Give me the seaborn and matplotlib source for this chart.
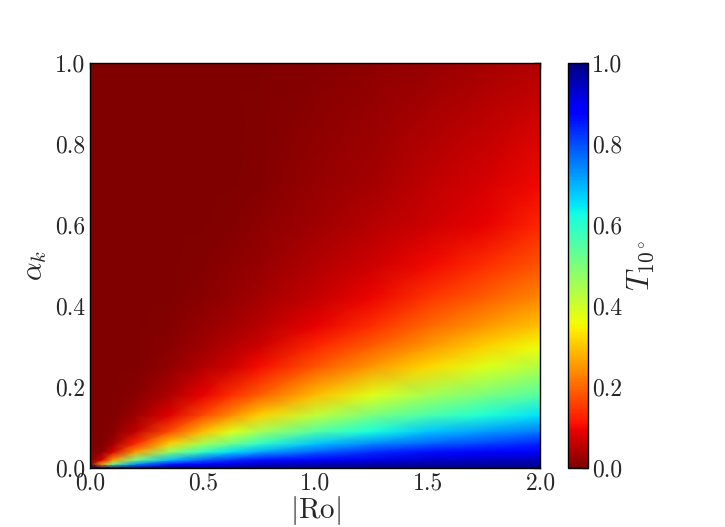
import numpy as np
import matplotlib
matplotlib.use('Agg')
import matplotlib.pyplot as plt
import seaborn as sns

# grid nodes of the map
ro = [0.0, 0.05, 0.1, 0.2, 0.35, 0.5, 0.625, 0.75, 1.0, 1.25, 1.5, 1.75, 2.0]
alpha_k = [0.0, 0.01, 0.02, 0.04, 0.06, 0.09, 0.13, 0.18, 0.25, 0.3, 0.35,
           0.42, 0.5, 0.6, 0.7, 1.0]

# T_10, one list per alpha_k row (columns follow ro)
t_a000 = [1.00, 1.00, 1.00, 1.00, 1.00, 1.00, 1.00, 1.00, 1.00, 1.00, 1.00, 1.00, 1.00]
t_a001 = [0.00, 0.25, 0.51, 0.73, 0.85, 0.89, 0.91, 0.93, 0.95, 0.96, 0.965, 0.97, 0.97]
t_a002 = [0.00, 0.075, 0.25, 0.51, 0.69, 0.78, 0.83, 0.86, 0.89, 0.91, 0.93, 0.94, 0.95]
t_a004 = [0.00, 0.012, 0.075, 0.25, 0.47, 0.59, 0.66, 0.71, 0.78, 0.83, 0.86, 0.875, 0.89]
t_a006 = [0.00, 0.002, 0.03, 0.13, 0.31, 0.45, 0.52, 0.59, 0.68, 0.74, 0.78, 0.81, 0.84]
t_a009 = [0.00, 0.00, 0.008, 0.055, 0.17, 0.29, 0.38, 0.45, 0.55, 0.62, 0.68, 0.72, 0.755]
t_a013 = [0.00, 0.00, 0.002, 0.025, 0.085, 0.17, 0.24, 0.31, 0.42, 0.50, 0.56, 0.61, 0.655]
t_a018 = [0.00, 0.00, 0.00, 0.008, 0.04, 0.09, 0.14, 0.19, 0.29, 0.38, 0.45, 0.50, 0.55]
t_a025 = [0.00, 0.00, 0.00, 0.002, 0.018, 0.045, 0.068, 0.105, 0.18, 0.25, 0.32, 0.38, 0.435]
t_a030 = [0.00, 0.00, 0.00, 0.001, 0.01, 0.03, 0.05, 0.068, 0.13, 0.19, 0.25, 0.31, 0.36]
t_a035 = [0.00, 0.00, 0.00, 0.00, 0.005, 0.02, 0.035, 0.05, 0.09, 0.14, 0.20, 0.25, 0.30]
t_a042 = [0.00, 0.00, 0.00, 0.00, 0.002, 0.01, 0.022, 0.035, 0.062, 0.095, 0.145, 0.19, 0.235]
t_a050 = [0.00, 0.00, 0.00, 0.00, 0.001, 0.005, 0.012, 0.023, 0.045, 0.068, 0.10, 0.14, 0.18]
t_a060 = [0.00, 0.00, 0.00, 0.00, 0.00, 0.002, 0.005, 0.012, 0.03, 0.05, 0.068, 0.092, 0.13]
t_a070 = [0.00, 0.00, 0.00, 0.00, 0.00, 0.001, 0.003, 0.007, 0.02, 0.035, 0.055, 0.075, 0.10]
t_a100 = [0.00, 0.00, 0.00, 0.00, 0.00, 0.00, 0.00, 0.002, 0.005, 0.012, 0.023, 0.033, 0.045]

t10 = np.array([t_a000, t_a001, t_a002, t_a004, t_a006, t_a009, t_a013, t_a018,
                t_a025, t_a030, t_a035, t_a042, t_a050, t_a060, t_a070, t_a100])

xticks = [0.0, 0.5, 1.0, 1.5, 2.0]
yticks = [0.0, 0.2, 0.4, 0.6, 0.8, 1.0]
cticks = [0.0, 0.2, 0.4, 0.6, 0.8, 1.0]

sns.set_style('white', {'xtick.direction': 'in', 'ytick.direction': 'in',
                        'axes.edgecolor': 'black'})
plt.rcParams['font.family'] = 'serif'
plt.rcParams['font.serif'] = ['cmr10']
plt.rcParams['mathtext.fontset'] = 'cm'
plt.rcParams['axes.unicode_minus'] = False

fig = plt.figure(figsize=(7.25, 5.27), dpi=100)
ax = fig.add_axes([0.1248, 0.112, 0.6207, 0.7694])
cax = fig.add_axes([0.783, 0.112, 0.0284, 0.7694])

X, Y = np.meshgrid(ro, alpha_k)
mesh = ax.pcolormesh(X, Y, t10, shading='gouraud', cmap='jet_r', vmin=0, vmax=1)

ax.set_xlim(0, 2)
ax.set_ylim(0, 1)
ax.set_xticks(xticks)
ax.set_yticks(yticks)
ax.tick_params(direction='in', length=4, width=1, labelsize=17,
               top=True, right=True)
ax.tick_params(axis='x', pad=3)
ax.tick_params(axis='y', pad=4)
for s in ax.spines.values():
    s.set_linewidth(1)
    s.set_color('black')
ax.set_xlabel(r'$|\mathrm{Ro}|$', fontsize=21, labelpad=0)
ax.set_ylabel(r'$\alpha_k$', fontsize=21, labelpad=4)

cbar = fig.colorbar(mesh, cax=cax, ticks=cticks)
cbar.ax.tick_params(direction='in', length=4, width=1, labelsize=17, pad=3)
cbar.outline.set_linewidth(1)
cbar.set_label(r'$T_{10^\circ}$', fontsize=22, labelpad=2)

fig.savefig('out.png', dpi=100)
